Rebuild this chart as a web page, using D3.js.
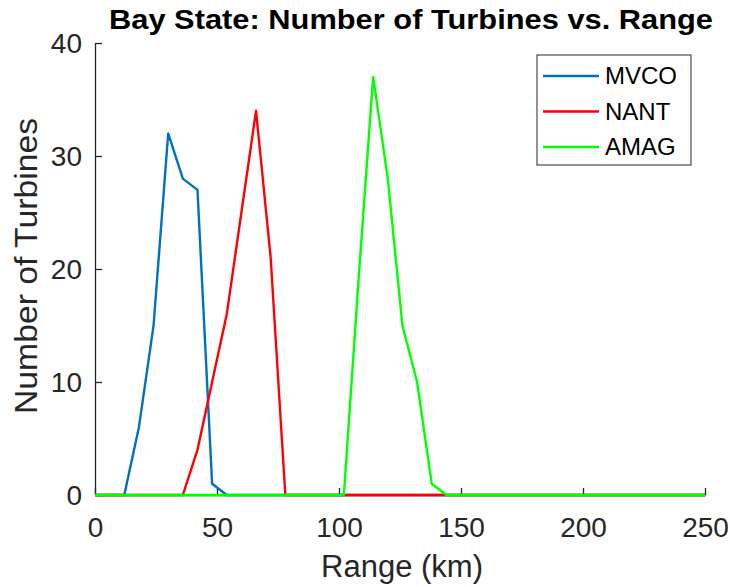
<!DOCTYPE html>
<html>
<head>
<meta charset="utf-8">
<script src="https://cdn.jsdelivr.net/npm/d3@7"></script>
<style>
  html, body { margin: 0; padding: 0; background: #ffffff; }
  svg { display: block; font-family: "Liberation Sans", Arial, Helvetica, sans-serif; }
</style>
</head>
<body>
<svg id="chart" width="730" height="587"></svg>
<script>
// ---- data ----
const rangeKm = [0, 6, 12, 18, 24, 30, 36, 42, 48, 54, 60, 66, 72, 78, 84, 90, 96, 102, 108, 114, 120,
                 126, 132, 138, 144, 150, 156, 162, 168, 174, 180, 186, 192, 198, 204, 210, 216, 222,
                 228, 234, 240, 246, 252];
const mvco = [0, 0, 0, 6, 15, 32, 28, 27, 1, 0, 0, 0, 0, 0, 0, 0, 0, 0, 0, 0, 0,
              0, 0, 0, 0, 0, 0, 0, 0, 0, 0, 0, 0, 0, 0, 0, 0, 0, 0, 0, 0, 0, 0];
const nant = [0, 0, 0, 0, 0, 0, 0, 4, 10, 16, 25, 34, 21, 0, 0, 0, 0, 0, 0, 0, 0,
              0, 0, 0, 0, 0, 0, 0, 0, 0, 0, 0, 0, 0, 0, 0, 0, 0, 0, 0, 0, 0, 0];
const amag = [0, 0, 0, 0, 0, 0, 0, 0, 0, 0, 0, 0, 0, 0, 0, 0, 0, 0, 19, 37, 28,
              15, 10, 1, 0, 0, 0, 0, 0, 0, 0, 0, 0, 0, 0, 0, 0, 0, 0, 0, 0, 0, 0];
const seriesNames = ["MVCO", "NANT", "AMAG"];
const seriesValues = [mvco, nant, amag];
const seriesColors = ["#0072BD", "#FF0000", "#00FF00"];
const xTicks = [0, 50, 100, 150, 200, 250];
const yTicks = [0, 10, 20, 30, 40];
const titleText = "Bay State: Number of Turbines vs. Range";
const xLabelText = "Range (km)";
const yLabelText = "Number of Turbines";

// ---- layout ----
const L = 95, R = 705, T = 43, B = 495;
const axisColor = "#262626";
const svg = d3.select("#chart");

const x = d3.scaleLinear().domain([0, 250]).range([L, R]);
const y = d3.scaleLinear().domain([0, 40]).range([B, T]);

svg.append("defs").append("clipPath").attr("id", "plotclip")
  .append("rect").attr("x", L).attr("y", T - 2).attr("width", R - L).attr("height", B - T + 4);

// axes (box off, ticks inward)
const xAxis = d3.axisBottom(x).tickValues(xTicks).tickSizeInner(-7).tickSizeOuter(0).tickPadding(22)
  .tickFormat(d3.format("d"));
const yAxis = d3.axisLeft(y).tickValues(yTicks).tickSizeInner(-7).tickSizeOuter(0).tickPadding(13)
  .tickFormat(d3.format("d"));

const gx = svg.append("g").attr("transform", `translate(0,${B})`).call(xAxis);
const gy = svg.append("g").attr("transform", `translate(${L},0)`).call(yAxis);
[gx, gy].forEach(g => {
  g.select(".domain").attr("stroke", axisColor).attr("stroke-width", 1.3);
  g.selectAll(".tick line").attr("stroke", axisColor).attr("stroke-width", 1.3);
  g.selectAll(".tick text").attr("fill", axisColor).attr("font-size", 28)
    .attr("font-family", "'Liberation Sans', Arial, sans-serif");
});
gx.selectAll(".tick text").attr("dy", null).attr("y", 42);
gy.selectAll(".tick text").attr("x", -13).attr("dy", "0.35em");

// lines
const line = d3.line().x((d, i) => x(rangeKm[i])).y(d => y(d));
const gl = svg.append("g").attr("clip-path", "url(#plotclip)");
seriesValues.forEach((vals, k) => {
  gl.append("path").datum(vals)
    .attr("d", line)
    .attr("fill", "none")
    .attr("stroke", seriesColors[k])
    .attr("stroke-width", 2.4)
    .attr("stroke-linejoin", "round");
});

// title & labels
svg.append("text").attr("x", 411).attr("y", 29).attr("text-anchor", "middle")
  .attr("font-weight", "bold").attr("font-size", 28).attr("fill", "#000")
  .attr("textLength", 604).attr("lengthAdjust", "spacingAndGlyphs")
  .text(titleText);
svg.append("text").attr("x", 402).attr("y", 577).attr("text-anchor", "middle")
  .attr("font-size", 31).attr("fill", axisColor).text(xLabelText);
svg.append("text").attr("transform", `translate(37,266) rotate(-90)`).attr("text-anchor", "middle")
  .attr("font-size", 31).attr("fill", axisColor)
  .attr("textLength", 296).attr("lengthAdjust", "spacingAndGlyphs")
  .text(yLabelText);

// legend
const lg = svg.append("g");
lg.append("rect").attr("x", 537).attr("y", 55).attr("width", 154).attr("height", 110)
  .attr("fill", "#fff").attr("stroke", axisColor).attr("stroke-width", 1);
seriesNames.forEach((name, k) => {
  const cy = 76 + k * 35.5;
  lg.append("line").attr("x1", 543).attr("x2", 599).attr("y1", cy).attr("y2", cy)
    .attr("stroke", seriesColors[k]).attr("stroke-width", 2.4);
  lg.append("text").attr("x", 605).attr("y", cy).attr("dy", "0.35em")
    .attr("font-size", 24).attr("fill", "#000").text(name);
});
</script>
</body>
</html>
